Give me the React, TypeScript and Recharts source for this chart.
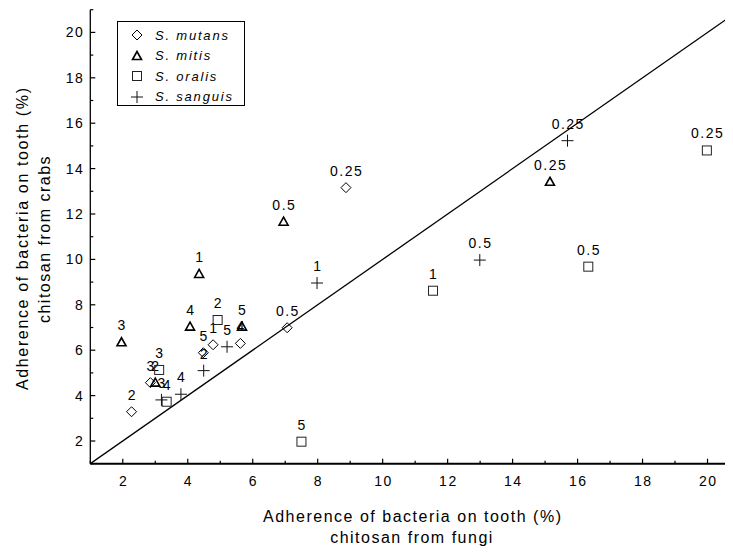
import React from 'react';
import { ScatterChart, Scatter, XAxis, YAxis } from 'recharts';

const concLabels = ['0.25', '0.5', '1', '2', '3', '4', '5'];
const mutansX = [8.87, 7.06, 4.78, 2.27, 2.85, 5.62, 4.48];
const mutansY = [13.16, 6.99, 6.24, 3.29, 4.57, 6.3, 5.89];
const mitisX = [15.15, 6.95, 4.35, 3.0, 1.96, 4.07, 5.67];
const mitisY = [13.42, 11.66, 9.36, 4.57, 6.35, 7.04, 7.04];
const oralisX = [19.98, 16.33, 11.55, 4.92, 3.12, 3.35, 7.5];
const oralisY = [14.8, 9.68, 8.62, 7.33, 5.13, 3.73, 1.97];
const sanguisX = [15.69, 12.99, 7.98, 4.49, 3.19, 3.79, 5.21];
const sanguisY = [15.23, 9.97, 8.96, 5.1, 3.81, 4.06, 6.15];
const diagX = [1, 21];
const diagY = [1, 21];
const axisTicks = [1, 2, 3, 4, 5, 6, 7, 8, 9, 10, 11, 12, 13, 14, 15, 16, 17, 18, 19, 20, 21];
const seriesNames = ['S. mutans', 'S. mitis', 'S. oralis', 'S. sanguis'];

const build = (xs: number[], ys: number[]) =>
  xs.map((x, i) => ({ x, y: ys[i], label: concLabels[i] }));

const mutansData = build(mutansX, mutansY);
const mitisData = build(mitisX, mitisY);
const oralisData = build(oralisX, oralisY);
const sanguisData = build(sanguisX, sanguisY);
const diagData = diagX.map((x, i) => ({ x, y: diagY[i] }));

const FONT = "'Liberation Sans', Arial, sans-serif";

type Kind = 'diamond' | 'triangle' | 'square' | 'plus';

const Symbol = ({ kind, cx, cy }: { kind: Kind; cx: number; cy: number }) => {
  if (kind === 'diamond') {
    return (
      <polygon
        points={`${cx},${cy - 5} ${cx + 5},${cy} ${cx},${cy + 5} ${cx - 5},${cy}`}
        fill="none"
        stroke="#000"
        strokeWidth={1}
      />
    );
  }
  if (kind === 'triangle') {
    return (
      <polygon
        points={`${cx},${cy - 4.5} ${cx + 4.5},${cy + 3.5} ${cx - 4.5},${cy + 3.5}`}
        fill="none"
        stroke="#000"
        strokeWidth={1.6}
      />
    );
  }
  if (kind === 'square') {
    return <rect x={cx - 4.5} y={cy - 4.5} width={9} height={9} fill="none" stroke="#222" strokeWidth={1} />;
  }
  return (
    <g stroke="#111" strokeWidth={1}>
      <line x1={cx - 6} x2={cx + 6} y1={cy} y2={cy} />
      <line x1={cx} x2={cx} y1={cy - 6} y2={cy + 6} />
    </g>
  );
};

const makeShape = (kind: Kind) => (props: any) => {
  const { cx, cy, payload } = props;
  if (cx == null || cy == null) return <g />;
  return (
    <g>
      <Symbol kind={kind} cx={cx} cy={cy} />
      <text
        x={cx + 0.75}
        y={cy - 12}
        textAnchor="middle"
        fontFamily={FONT}
        fontSize={14}
        letterSpacing={1.5}
        fill="#000"
      >
        {payload.label}
      </text>
    </g>
  );
};

const XTick = (props: any) => {
  const { x, y, payload } = props;
  const v = payload.value;
  const major = v % 2 === 0;
  return (
    <g>
      <line x1={x} x2={x} y1={y} y2={y - (major ? 5 : 3)} stroke="#000" strokeWidth={1.2} />
      {major && (
        <text x={x + 0.75} y={y + 22} textAnchor="middle" fontFamily={FONT} fontSize={14} letterSpacing={1.5} fill="#000">
          {v}
        </text>
      )}
    </g>
  );
};

const TopTick = (props: any) => {
  const { x, y, payload } = props;
  const v = payload.value;
  const major = v % 2 === 0;
  return <line x1={x} x2={x} y1={y} y2={y + (major ? 5 : 3)} stroke="#000" strokeWidth={1.2} />;
};

const YTick = (props: any) => {
  const { x, y, payload } = props;
  const v = payload.value;
  const major = v % 2 === 0;
  return (
    <g>
      <line x1={x} x2={x + (major ? 5 : 3)} y1={y} y2={y} stroke="#000" strokeWidth={1.2} />
      {major && (
        <text x={x - 6} y={y + 5} textAnchor="end" fontFamily={FONT} fontSize={14} letterSpacing={1.5} fill="#000">
          {v}
        </text>
      )}
    </g>
  );
};

const XTitle = () => (
  <g fontFamily={FONT} fontSize={16} fill="#000">
    <text x={404} y={514} textAnchor="middle" textLength={298} lengthAdjust="spacing">
      Adherence of bacteria on tooth (%)
    </text>
    <text x={404} y={535} textAnchor="middle" letterSpacing={1.5}>
      chitosan from fungi
    </text>
  </g>
);

const YTitle = () => (
  <g fontFamily={FONT} fontSize={16} fill="#000">
    <text x={20} y={231} textAnchor="middle" transform="rotate(-90, 20, 231)" textLength={302} lengthAdjust="spacing">
      Adherence of bacteria on tooth (%)
    </text>
    <text x={41.5} y={231} textAnchor="middle" transform="rotate(-90, 41.5, 231)" letterSpacing={1.5}>
      chitosan from crabs
    </text>
  </g>
);

const legendKinds: Kind[] = ['diamond', 'triangle', 'square', 'plus'];

const LegendBox = () => (
  <div
    style={{
      position: 'absolute',
      left: 109,
      top: 13,
      width: 128,
      height: 85,
      border: '1px solid #000',
      boxSizing: 'border-box',
      background: '#fff',
      paddingTop: 3,
    }}
  >
    {seriesNames.map((name, i) => (
      <div key={name} style={{ display: 'flex', alignItems: 'center', height: 20.5 }}>
        <svg width={37} height={20} style={{ flex: 'none' }}>
          <Symbol kind={legendKinds[i]} cx={19} cy={10} />
        </svg>
        <span
          style={{
            fontFamily: FONT,
            fontStyle: 'italic',
            fontSize: 13,
            letterSpacing: 1.8,
            color: '#000',
            whiteSpace: 'nowrap',
          }}
        >
          {name}
        </span>
      </div>
    ))}
  </div>
);

export default function App() {
  return (
    <div style={{ width: 725, height: 544, overflow: 'hidden', position: 'relative', background: '#fff' }}>
      <ScatterChart width={740} height={544} margin={{ top: 1.7, right: 8, bottom: 0, left: 0 }}>
        <XAxis
          xAxisId="top"
          orientation="top"
          type="number"
          dataKey="x"
          domain={[1, 21]}
          allowDataOverflow
          ticks={axisTicks}
          interval={0}
          height={0}
          tickSize={0}
          tickMargin={0}
          tickLine={false}
          axisLine={{ stroke: '#000', strokeWidth: 1.2 }}
          tick={<TopTick />}
        />
        <XAxis
          type="number"
          dataKey="x"
          domain={[1, 21]}
          allowDataOverflow
          ticks={axisTicks}
          interval={0}
          height={88.3}
          tickSize={0}
          tickMargin={0}
          tickLine={false}
          axisLine={{ stroke: '#000', strokeWidth: 2 }}
          tick={<XTick />}
          label={{ content: () => <XTitle /> }}
        />
        <YAxis
          type="number"
          dataKey="y"
          domain={[1, 21]}
          allowDataOverflow
          ticks={axisTicks}
          interval={0}
          width={82.3}
          tickSize={0}
          tickMargin={0}
          tickLine={false}
          axisLine={{ stroke: '#000', strokeWidth: 1.3 }}
          tick={<YTick />}
          label={{ content: () => <YTitle /> }}
        />
        <Scatter
          data={diagData}
          line={{ stroke: '#000', strokeWidth: 1.3 }}
          shape={() => <g />}
          isAnimationActive={false}
        />
        <Scatter data={mutansData} shape={makeShape('diamond')} isAnimationActive={false} />
        <Scatter data={mitisData} shape={makeShape('triangle')} isAnimationActive={false} />
        <Scatter data={oralisData} shape={makeShape('square')} isAnimationActive={false} />
        <Scatter data={sanguisData} shape={makeShape('plus')} isAnimationActive={false} />
      </ScatterChart>
      <LegendBox />
    </div>
  );
}
